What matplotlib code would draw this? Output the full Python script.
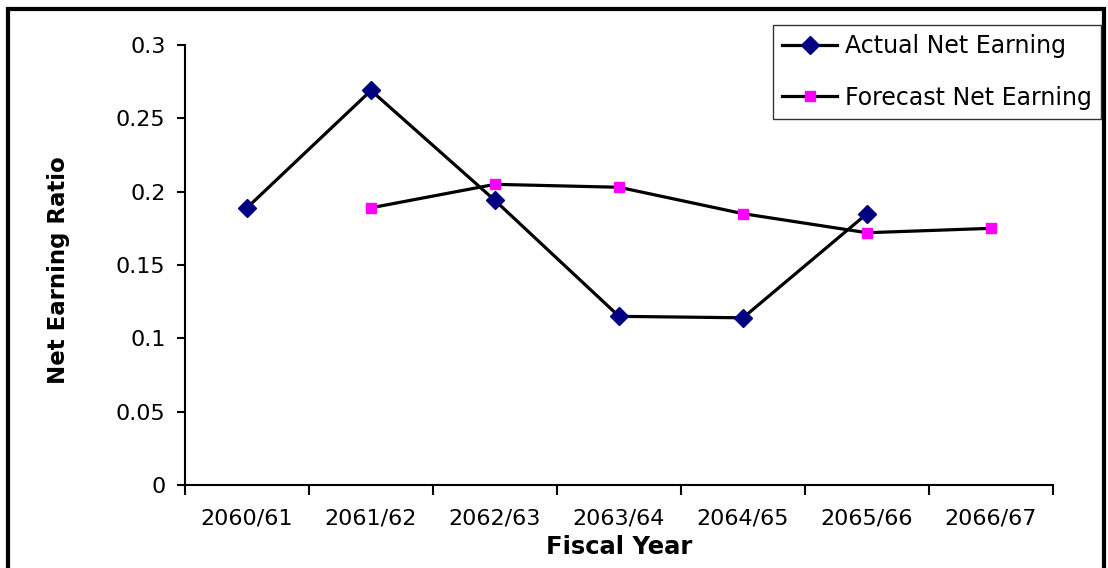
import numpy as np
import matplotlib.pyplot as plt
from matplotlib.patches import Rectangle

years = ['2060/61', '2061/62', '2062/63', '2063/64', '2064/65', '2065/66', '2066/67']
actual = [0.189, 0.269, 0.194, 0.115, 0.114, 0.185, np.nan]
forecast = [np.nan, 0.189, 0.205, 0.203, 0.185, 0.172, 0.175]

plt.rcParams['font.family'] = 'DejaVu Sans'

fig = plt.figure(figsize=(11.08, 5.68), dpi=100)
ax = fig.add_axes([185/1108, 1 - 485/568, (1053 - 185)/1108, 440/568])

x = np.arange(len(years))
ax.plot(x, actual, color='black', lw=2.3, marker='D', ms=9.5,
        mfc='#000080', mec='#000080', label='Actual Net Earning')
ax.plot(x, forecast, color='black', lw=2.3, marker='s', ms=7.5,
        mfc='#FF00FF', mec='#FF00FF', label='Forecast Net Earning')

ax.set_xlim(-0.5, len(years) - 0.5)
ax.set_ylim(0, 0.3)
ax.set_yticks([0, 0.05, 0.1, 0.15, 0.2, 0.25, 0.3])
ax.set_yticklabels(['0', '0.05', '0.1', '0.15', '0.2', '0.25', '0.3'])
ax.set_xticks(x)
ax.set_xticklabels(years)
ax.set_xticks(np.arange(-0.5, len(years)), minor=True)
ax.tick_params(axis='x', which='major', length=0, pad=17, labelsize=16)
ax.tick_params(axis='x', which='minor', length=7, width=1.5, direction='out')
ax.tick_params(axis='y', length=6, width=1.5, pad=8, labelsize=16)

for side in ['top', 'right']:
    ax.spines[side].set_visible(False)
for side in ['left', 'bottom']:
    ax.spines[side].set_linewidth(1.5)

ax.set_xlabel('Fiscal Year', fontsize=17.5, fontweight='bold')
ax.set_ylabel('Net Earning Ratio', fontsize=16.5, fontweight='bold')
ax.xaxis.set_label_coords(0.5, -0.113)
ax.yaxis.set_label_coords(-0.133, 0.489)

leg = ax.legend(loc='upper left', bbox_to_anchor=(773/1108, 1 - 25/568),
                bbox_transform=fig.transFigure, fontsize=17, frameon=True,
                fancybox=False, edgecolor='black', borderaxespad=0,
                handlelength=2.3, handletextpad=0.35, labelspacing=1.15,
                borderpad=0.4)
leg.get_frame().set_linewidth(1.0)

# outer chart border
fig.patches.append(Rectangle((8/1108, -0.05), (1104 - 8)/1108, 1.05 - 9/568,
                             transform=fig.transFigure, fill=False,
                             edgecolor='black', lw=3, zorder=10))

fig.savefig('out.png', dpi=100)
